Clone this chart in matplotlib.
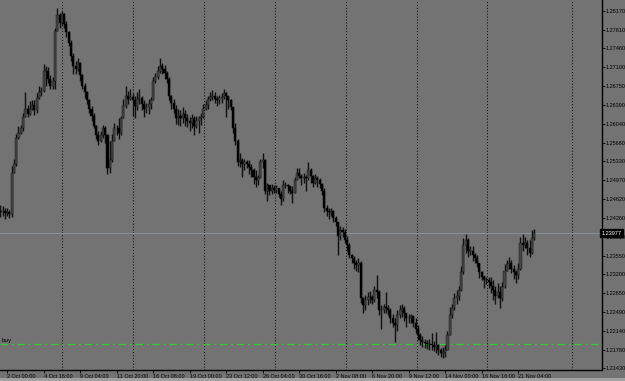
import matplotlib.pyplot as plt
import numpy as np
from matplotlib.patches import Rectangle

plt.rcParams['font.family'] = ['Liberation Sans', 'DejaVu Sans']

# H4 candles (price units)
closes = [
    1.2437, 1.2440, 1.2435, 1.2437, 1.2433, 1.2512, 1.2529, 1.2578, 1.2587, 1.2595,
    1.2616, 1.2632, 1.2623, 1.2632, 1.2640, 1.2629, 1.2653, 1.2663, 1.2666, 1.2704,
    1.2704, 1.2689, 1.2676, 1.2685, 1.2779, 1.2808, 1.2794, 1.2810, 1.2792, 1.2776,
    1.2757, 1.2732, 1.2713, 1.2708, 1.2719, 1.2695, 1.2676, 1.2663, 1.2648, 1.2632,
    1.2619, 1.2600, 1.2582, 1.2572, 1.2582, 1.2595, 1.2582, 1.2520, 1.2535, 1.2572,
    1.2595, 1.2595, 1.2587, 1.2614, 1.2638, 1.2657, 1.2651, 1.2655, 1.2648, 1.2638,
    1.2651, 1.2653, 1.2642, 1.2632, 1.2636, 1.2642, 1.2648, 1.2685, 1.2693, 1.2704,
    1.2713, 1.2708, 1.2700, 1.2689, 1.2657, 1.2644, 1.2632, 1.2614, 1.2619, 1.2614,
    1.2623, 1.2614, 1.2610, 1.2606, 1.2614, 1.2600, 1.2610, 1.2614, 1.2617, 1.2632,
    1.2640, 1.2651, 1.2655, 1.2657, 1.2651, 1.2648, 1.2653, 1.2655, 1.2661, 1.2657,
    1.2648, 1.2636, 1.2595, 1.2572, 1.2531, 1.2535, 1.2529, 1.2531, 1.2529, 1.2523,
    1.2516, 1.2504, 1.2497, 1.2501, 1.2531, 1.2535, 1.2478, 1.2488, 1.2478, 1.2482,
    1.2480, 1.2482, 1.2472, 1.2463, 1.2488, 1.2489, 1.2486, 1.2478, 1.2474, 1.2497,
    1.2512, 1.2506, 1.2501, 1.2504, 1.2501, 1.2516, 1.2506, 1.2493, 1.2501, 1.2497,
    1.2491, 1.2478, 1.2446, 1.2440, 1.2437, 1.2440, 1.2427, 1.2418, 1.2393, 1.2403,
    1.2399, 1.2384, 1.2375, 1.2356, 1.2350, 1.2342, 1.2337, 1.2342, 1.2275, 1.2262,
    1.2271, 1.2278, 1.2277, 1.2271, 1.2290, 1.2286, 1.2252, 1.2252, 1.2258, 1.2256,
    1.2252, 1.2237, 1.2229, 1.2224, 1.2243, 1.2252, 1.2256, 1.2248, 1.2237, 1.2237,
    1.2241, 1.2229, 1.2218, 1.2205, 1.2196, 1.2192, 1.2190, 1.2188, 1.2188, 1.2186,
    1.2184, 1.2186, 1.2177, 1.2171, 1.2173, 1.2177, 1.2205, 1.2243, 1.2256, 1.2275,
    1.2280, 1.2290, 1.2324, 1.2375, 1.2384, 1.2365, 1.2365, 1.2356, 1.2350, 1.2342,
    1.2324, 1.2316, 1.2309, 1.2310, 1.2305, 1.2299, 1.2290, 1.2280, 1.2286, 1.2275,
    1.2297, 1.2327, 1.2339, 1.2342, 1.2331, 1.2324, 1.2318, 1.2331, 1.2380, 1.2375,
    1.2380, 1.2369, 1.2361, 1.2388, 1.23977,
]
highs = [
    1.2450, 1.2448, 1.2446, 1.2446, 1.2442, 1.2525, 1.2538, 1.2585, 1.2599, 1.2602,
    1.2625, 1.2663, 1.2640, 1.2646, 1.2649, 1.2648, 1.2661, 1.2676, 1.2674, 1.2717,
    1.2712, 1.2710, 1.2695, 1.2693, 1.2785, 1.2823, 1.2813, 1.2817, 1.2813, 1.2798,
    1.2779, 1.2761, 1.2738, 1.2723, 1.2727, 1.2721, 1.2698, 1.2681, 1.2666, 1.2651,
    1.2638, 1.2625, 1.2602, 1.2591, 1.2591, 1.2602, 1.2600, 1.2585, 1.2572, 1.2585,
    1.2606, 1.2602, 1.2614, 1.2619, 1.2651, 1.2676, 1.2666, 1.2670, 1.2661, 1.2657,
    1.2663, 1.2670, 1.2657, 1.2648, 1.2644, 1.2651, 1.2655, 1.2693, 1.2700, 1.2713,
    1.2727, 1.2719, 1.2715, 1.2704, 1.2693, 1.2659, 1.2651, 1.2640, 1.2632, 1.2629,
    1.2636, 1.2629, 1.2623, 1.2617, 1.2623, 1.2619, 1.2619, 1.2619, 1.2625, 1.2642,
    1.2648, 1.2657, 1.2663, 1.2668, 1.2664, 1.2657, 1.2659, 1.2661, 1.2670, 1.2664,
    1.2657, 1.2651, 1.2636, 1.2606, 1.2575, 1.2548, 1.2540, 1.2538, 1.2535, 1.2535,
    1.2529, 1.2521, 1.2516, 1.2508, 1.2538, 1.2548, 1.2537, 1.2493, 1.2489, 1.2491,
    1.2488, 1.2488, 1.2482, 1.2478, 1.2497, 1.2495, 1.2491, 1.2486, 1.2486, 1.2503,
    1.2520, 1.2520, 1.2510, 1.2512, 1.2508, 1.2531, 1.2520, 1.2508, 1.2510, 1.2506,
    1.2501, 1.2493, 1.2482, 1.2450, 1.2446, 1.2446, 1.2442, 1.2431, 1.2418, 1.2412,
    1.2410, 1.2406, 1.2393, 1.2380, 1.2358, 1.2354, 1.2348, 1.2350, 1.2345, 1.2277,
    1.2282, 1.2286, 1.2288, 1.2282, 1.2299, 1.2318, 1.2290, 1.2263, 1.2265, 1.2286,
    1.2262, 1.2256, 1.2245, 1.2237, 1.2252, 1.2263, 1.2265, 1.2260, 1.2248, 1.2245,
    1.2246, 1.2241, 1.2237, 1.2224, 1.2209, 1.2203, 1.2199, 1.2196, 1.2198, 1.2209,
    1.2194, 1.2211, 1.2188, 1.2182, 1.2184, 1.2186, 1.2214, 1.2258, 1.2265, 1.2284,
    1.2290, 1.2299, 1.2335, 1.2388, 1.2397, 1.2388, 1.2373, 1.2373, 1.2361, 1.2356,
    1.2342, 1.2327, 1.2318, 1.2316, 1.2316, 1.2316, 1.2310, 1.2299, 1.2303, 1.2299,
    1.2305, 1.2340, 1.2348, 1.2352, 1.2348, 1.2337, 1.2329, 1.2342, 1.2390, 1.2397,
    1.2391, 1.2384, 1.2384, 1.2403, 1.2406,
]
lows = [
    1.2429, 1.2431, 1.2425, 1.2431, 1.2427, 1.2429, 1.2512, 1.2525, 1.2576, 1.2584,
    1.2591, 1.2616, 1.2616, 1.2620, 1.2629, 1.2621, 1.2625, 1.2651, 1.2657, 1.2663,
    1.2676, 1.2681, 1.2670, 1.2670, 1.2670, 1.2779, 1.2785, 1.2789, 1.2785, 1.2768,
    1.2751, 1.2723, 1.2697, 1.2698, 1.2704, 1.2685, 1.2670, 1.2653, 1.2642, 1.2625,
    1.2610, 1.2595, 1.2576, 1.2563, 1.2570, 1.2578, 1.2568, 1.2510, 1.2512, 1.2531,
    1.2572, 1.2582, 1.2576, 1.2582, 1.2614, 1.2634, 1.2642, 1.2648, 1.2619, 1.2614,
    1.2629, 1.2642, 1.2629, 1.2616, 1.2625, 1.2623, 1.2632, 1.2648, 1.2681, 1.2689,
    1.2700, 1.2697, 1.2689, 1.2681, 1.2648, 1.2632, 1.2625, 1.2604, 1.2602, 1.2600,
    1.2606, 1.2600, 1.2597, 1.2591, 1.2595, 1.2582, 1.2595, 1.2587, 1.2602, 1.2614,
    1.2629, 1.2632, 1.2646, 1.2648, 1.2644, 1.2638, 1.2642, 1.2644, 1.2651, 1.2616,
    1.2632, 1.2629, 1.2587, 1.2563, 1.2525, 1.2523, 1.2503, 1.2516, 1.2520, 1.2510,
    1.2503, 1.2491, 1.2484, 1.2489, 1.2501, 1.2520, 1.2472, 1.2459, 1.2469, 1.2472,
    1.2474, 1.2474, 1.2465, 1.2450, 1.2459, 1.2482, 1.2474, 1.2472, 1.2454, 1.2474,
    1.2497, 1.2501, 1.2488, 1.2493, 1.2478, 1.2497, 1.2493, 1.2484, 1.2491, 1.2484,
    1.2482, 1.2469, 1.2437, 1.2431, 1.2425, 1.2431, 1.2418, 1.2412, 1.2356, 1.2384,
    1.2390, 1.2380, 1.2365, 1.2350, 1.2342, 1.2331, 1.2327, 1.2324, 1.2267, 1.2248,
    1.2252, 1.2262, 1.2267, 1.2265, 1.2268, 1.2275, 1.2243, 1.2218, 1.2248, 1.2248,
    1.2243, 1.2229, 1.2220, 1.2192, 1.2214, 1.2237, 1.2239, 1.2233, 1.2220, 1.2228,
    1.2229, 1.2220, 1.2209, 1.2196, 1.2186, 1.2184, 1.2181, 1.2179, 1.2177, 1.2177,
    1.2175, 1.2171, 1.2169, 1.2164, 1.2162, 1.2164, 1.2177, 1.2205, 1.2237, 1.2252,
    1.2265, 1.2271, 1.2288, 1.2320, 1.2361, 1.2352, 1.2356, 1.2346, 1.2341, 1.2333,
    1.2314, 1.2309, 1.2295, 1.2301, 1.2295, 1.2284, 1.2271, 1.2265, 1.2275, 1.2256,
    1.2270, 1.2294, 1.2327, 1.2331, 1.2322, 1.2312, 1.2303, 1.2312, 1.2328, 1.2365,
    1.2369, 1.2356, 1.2352, 1.2358, 1.2384,
]
first_open = 1.2440
opens = [first_open] + closes[:-1]   # each bar opens at the previous close

time_tick_bars = [3, 19, 35, 51, 67, 83, 99, 115, 131, 147, 163, 179, 195, 211, 227]
time_tick_labels = ['2 Oct 00:00', '4 Oct 16:00', '9 Oct 04:00', '11 Oct 20:00',
                    '16 Oct 08:00', '19 Oct 00:00', '23 Oct 12:00', '26 Oct 04:00',
                    '30 Oct 16:00', '2 Nov 08:00', '6 Nov 20:00', '9 Nov 12:00',
                    '14 Nov 00:00', '16 Nov 16:00', '21 Nov 04:00']
week_starts = [27, 58, 89.5, 120.5, 151.5, 182.5, 213.5, 250.5]
price_ticks = [1.28170, 1.27810, 1.27460, 1.27100, 1.26750, 1.26390, 1.26040,
               1.25680, 1.25330, 1.24970, 1.24620, 1.24260, 1.23910, 1.23550,
               1.23200, 1.22850, 1.22490, 1.22140, 1.21780, 1.21430]
last_price = 1.23977
buy_level = 1.2188

BG = '#737373'

fig = plt.figure(figsize=(6.25, 3.81), dpi=100, facecolor=BG)
ax = fig.add_axes([0, 11 / 381, 601.5 / 625, 370 / 381])
ax.set_facecolor(BG)

# light window frame strip along the bottom edge
fig.patches.append(Rectangle((0, 0), 1, 3 / 381, transform=fig.transFigure,
                             facecolor='#a0a0a0', edgecolor='none', zorder=0))

o = np.array(opens)
h = np.array(highs)
l = np.array(lows)
c = np.array(closes)
x = np.arange(len(c))
up = c >= o

# candles
ax.vlines(x, l, h, color='#101010', lw=1.0, zorder=3)
ax.bar(x[up], np.maximum(c - o, 0.00004)[up], bottom=o[up], width=0.9,
       color='#474747', edgecolor='#101010', lw=0.3, zorder=4)
ax.bar(x[~up], (o - c)[~up], bottom=c[~up], width=0.9,
       color='#000000', edgecolor='#000000', lw=0.3, zorder=4)

# weekly separators
for ws in week_starts:
    ax.axvline(ws, color='black', lw=0.7, linestyle=(0, (1.0, 2.0)), zorder=2)

# current price line + buy level
ax.axhline(last_price, color='#8594a8', lw=0.7, zorder=2)
ax.axhline(buy_level, color='#33cc33', lw=0.9, linestyle=(0, (6, 3, 1.5, 3)), zorder=2)
ax.text(0.4, buy_level + 0.0002, 'buy', fontsize=4.6, color='black', va='bottom', ha='left')

ax.set_xlim(-0.1, 263.5)
ax.set_ylim(1.21398, 1.28372)

for side in ['left', 'top']:
    ax.spines[side].set_visible(False)
for side in ['right', 'bottom']:
    ax.spines[side].set_color('black')
    ax.spines[side].set_linewidth(1.0)

ax.yaxis.tick_right()
ax.set_yticks(price_ticks)
ax.set_yticklabels([f'{p:.5f}' for p in price_ticks])
ax.tick_params(axis='y', length=2, width=0.6, pad=1, labelsize=4.0, colors='black')

ax.set_xticks(time_tick_bars)
ax.set_xticklabels(time_tick_labels, ha='left')
ax.tick_params(axis='x', length=2.5, width=0.6, pad=0.6, labelsize=4.0, colors='black')

# last price marker on the price scale
ax.text(1.0, last_price, f'{last_price:.5f}', transform=ax.get_yaxis_transform(),
        fontsize=4.0, color='white', va='center', ha='left', zorder=10,
        bbox=dict(facecolor='black', edgecolor='black', pad=0.9))

plt.savefig('out.png', dpi=100, facecolor=BG)
